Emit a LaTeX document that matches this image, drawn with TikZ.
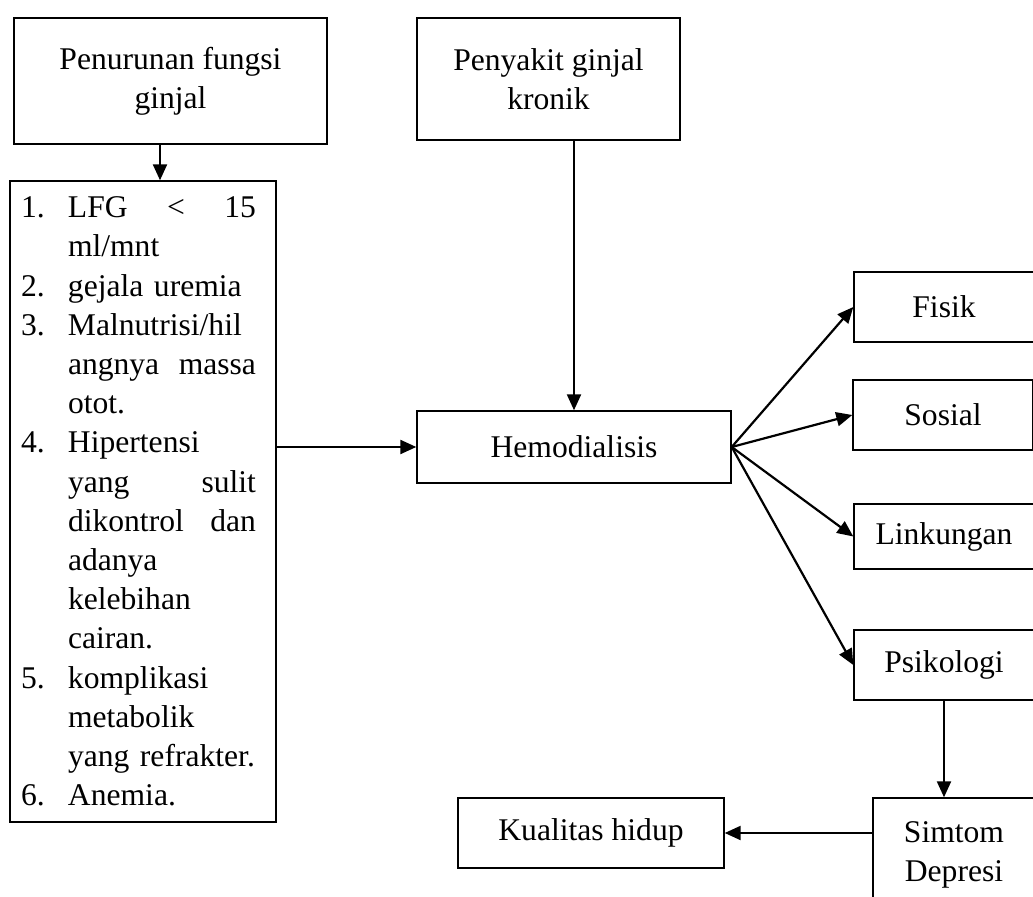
\documentclass[tikz,border=0pt]{standalone}
\usepackage{fontspec}
\setmainfont{Liberation Serif}
\usetikzlibrary{arrows.meta,positioning,calc}
\newcommand{\teks}{\fontsize{15.8pt}{19.6pt}\selectfont}
\newcommand{\nom}[1]{\makebox[23.5pt][l]{#1}}
\newcommand{\lanjut}{\hspace*{23.5pt}}
\newcommand{\rata}[1]{\makebox[94pt][l]{#1}}
\tikzset{
  kotak/.style={rectangle, draw=black, line width=0.7pt, align=center, font=\teks, inner sep=2pt},
  arr/.style={-{Triangle[length=8pt,width=7pt]}, line width=1.1pt},
}
\begin{document}
\begin{tikzpicture}[x=0.5pt,y=-0.5pt]
    \useasboundingbox (0,0) rectangle (1033,897);
    \clip (0,0) rectangle (1033,897);
    \node[kotak, minimum width=156.5pt, minimum height=63pt] (pf) at (170.5,81)
      {Penurunan fungsi\\ginjal};
    \node[kotak, minimum width=131.5pt, minimum height=61pt] (pgk) at (548.5,79)
      {Penyakit ginjal\\kronik};
    \node[kotak, align=left, text width=122pt, inner xsep=5.5pt, minimum height=320.5pt] (daftar) at (143,501.5)
      {\nom{1.}\rata{LFG\hfill<\hfill15}\\
       \lanjut ml/mnt\\
       \nom{2.}gejala uremia\\
       \nom{3.}Malnutrisi/hil\\
       \lanjut\rata{angnya\hfill massa}\\
       \lanjut otot.\\
       \nom{4.}Hipertensi\\
       \lanjut\rata{yang\hfill sulit}\\
       \lanjut\rata{dikontrol\hfill dan}\\
       \lanjut adanya\\
       \lanjut kelebihan\\
       \lanjut cairan.\\
       \nom{5.}komplikasi\\
       \lanjut metabolik\\
       \lanjut yang refrakter.\\
       \nom{6.}Anemia.};
    \node[kotak, minimum width=157pt, minimum height=36pt] (hd) at (574,447) {Hemodialisis};
    \node[kotak, minimum width=90pt, minimum height=35pt] (fis) at (944,307) {Fisik};
    \node[kotak, minimum width=90pt, minimum height=35pt] (sos) at (943,415) {Sosial};
    \node[kotak, minimum width=90pt, minimum height=32.5pt] (lin) at (944,536.5) {Linkungan};
    \node[kotak, minimum width=90pt, minimum height=35pt] (psi) at (944,665) {Psikologi};
    \node[kotak, minimum width=81pt, minimum height=57pt] (sd) at (954,855) {Simtom\\Depresi};
    \node[kotak, minimum width=133pt, minimum height=35pt] (kh) at (591,833) {Kualitas hidup};
    % panah
    \draw[arr] ([xshift=-5.25pt]pf.south) -- ([xshift=-5.25pt]pf.south |- daftar.north);
    \draw[arr] (hd.north |- pgk.south) -- (hd.north);
    \draw[arr] (daftar.east |- hd.west) -- (hd.west);
    \foreach \n in {fis,sos,lin,psi} \draw[arr] (hd.east) -- (\n.west);
    \draw[arr] (psi.south) -- (psi.south |- sd.north);
    \draw[arr] (sd.west |- kh.east) -- (kh.east);
\end{tikzpicture}
\end{document}
